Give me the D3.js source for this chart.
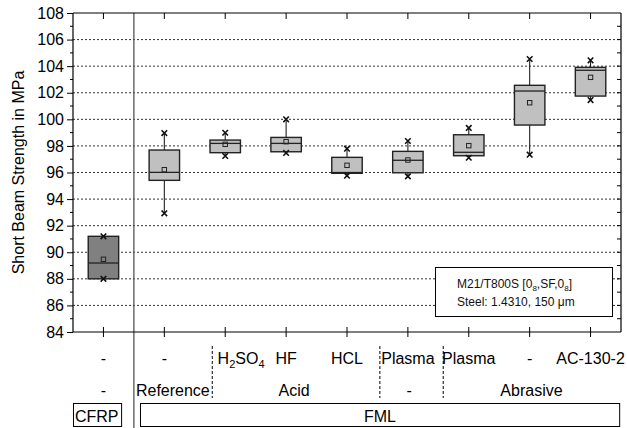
<!DOCTYPE html>
<html>
<head>
<meta charset="utf-8">
<script src="https://cdn.jsdelivr.net/npm/d3@7"></script>
<style>
  html, body { margin: 0; padding: 0; background: #fff; }
  svg { display: block; font-family: "Liberation Sans", Arial, sans-serif; }
</style>
</head>
<body>
<svg id="chart" width="627" height="428"></svg>
<script>
// Short beam strength per surface pretreatment
const categories = ["CFRP", "Reference", "H2SO4", "HF", "HCL", "Plasma", "PlasmaAbr", "Abr", "AC-130-2"];
const whiskerLow  = [88.0, 92.93, 97.24, 97.47, 95.76, 95.71, 97.11, 97.34, 101.45];
const q1          = [88.0, 95.41, 97.49, 97.56, 95.94, 95.98, 97.26, 99.57, 101.75];
const medians     = [89.19, 96.01, 98.19, 98.19, 96.0, 96.92, 97.52, 102.13, 103.69];
const q3          = [91.2, 97.69, 98.44, 98.64, 97.14, 97.59, 98.84, 102.56, 103.91];
const whiskerHigh = [91.2, 98.97, 98.99, 100.0, 97.79, 98.37, 99.35, 104.54, 104.44];
const means       = [89.47, 96.21, 98.12, 98.32, 96.54, 96.94, 98.02, 101.25, 103.16];

const yTicks = [84, 86, 88, 90, 92, 94, 96, 98, 100, 102, 104, 106, 108];
const treatmentLabels = ["-", "-", "H2SO4", "HF", "HCL", "Plasma", "Plasma", "-", "AC-130-2"];
// group labels: [text, slot position]
const groupLabels = [["-", 0.5], ["Reference", 1.64], ["Acid", 3.63], ["-", 5.52], ["Abrasive", 7.53]];
const materialLabels = ["CFRP", "FML"];

const svg = d3.select("#chart");
const m = { left: 73, right: 621, top: 13, bottom: 332 };

const x = d3.scaleBand().domain(categories).range([m.left, m.right]).padding(0);
const slot = d3.scaleLinear().domain([0, categories.length]).range([m.left, m.right]);
const y = d3.scaleLinear().domain([84, 108]).range([m.bottom, m.top]);
const cx = c => x(c) + x.bandwidth() / 2;
const boxW = x.bandwidth() * 0.5;

const rows = categories.map((c, i) => ({
  c, lo: whiskerLow[i], q1: q1[i], med: medians[i], q3: q3[i], hi: whiskerHigh[i], mean: means[i]
}));

// dotted grid
svg.append("g").selectAll("line")
  .data(yTicks.filter(v => v > 84 && v < 108))
  .join("line")
  .attr("x1", m.left).attr("x2", m.right)
  .attr("y1", d => y(d)).attr("y2", d => y(d))
  .attr("stroke", "#333").attr("stroke-width", 1)
  .attr("stroke-dasharray", "2,2");

// legend box (covers grid)
const lg = svg.append("g");
lg.append("rect").attr("x", 435.5).attr("y", 267.5).attr("width", 177).attr("height", 49)
  .attr("fill", "#fff").attr("stroke", "#000").attr("stroke-width", 1);
const t1 = lg.append("text").attr("x", 457).attr("y", 287.5).attr("font-size", 12).attr("fill", "#111");
t1.append("tspan").text("M21/T800S [0");
t1.append("tspan").attr("font-size", 8).attr("dy", 3).text("8");
t1.append("tspan").attr("dy", -3).text(",SF,0");
t1.append("tspan").attr("font-size", 8).attr("dy", 3).text("8");
t1.append("tspan").attr("dy", -3).text("]");
lg.append("text").attr("x", 457).attr("y", 305.5).attr("font-size", 12).attr("fill", "#111")
  .text("Steel: 1.4310, 150 \u03bcm");

// vertical separator between CFRP and FML
svg.append("line")
  .attr("x1", slot(1)).attr("x2", slot(1)).attr("y1", m.top).attr("y2", 428)
  .attr("stroke", "#555").attr("stroke-width", 1.3);

// whiskers
const g = svg.append("g");
g.selectAll("line.wh").data(rows).join("line").attr("class", "wh")
  .attr("x1", d => cx(d.c)).attr("x2", d => cx(d.c))
  .attr("y1", d => y(d.hi)).attr("y2", d => y(d.lo))
  .attr("stroke", "#222").attr("stroke-width", 1.1);

// boxes
g.selectAll("rect.box").data(rows).join("rect").attr("class", "box")
  .attr("x", d => cx(d.c) - boxW / 2).attr("width", boxW)
  .attr("y", d => y(d.q3)).attr("height", d => y(d.q1) - y(d.q3))
  .attr("fill", d => d.c === "CFRP" ? "#808080" : "#c0c0c0")
  .attr("stroke", "#222").attr("stroke-width", 1.4);

// medians
g.selectAll("line.med").data(rows).join("line").attr("class", "med")
  .attr("x1", d => cx(d.c) - boxW / 2).attr("x2", d => cx(d.c) + boxW / 2)
  .attr("y1", d => y(d.med)).attr("y2", d => y(d.med))
  .attr("stroke", "#222").attr("stroke-width", 1.3);

// means
g.selectAll("rect.mean").data(rows).join("rect").attr("class", "mean")
  .attr("x", d => cx(d.c) - 2.2).attr("y", d => y(d.mean) - 2.2)
  .attr("width", 4.4).attr("height", 4.4)
  .attr("fill", "none").attr("stroke", "#222").attr("stroke-width", 1);

// whisker end markers
const cross = d3.symbol(d3.symbolTimes, 22);
const ends = rows.flatMap(d => [{ c: d.c, v: d.hi }, { c: d.c, v: d.lo }]);
g.selectAll("path.end").data(ends).join("path").attr("class", "end")
  .attr("transform", d => `translate(${cx(d.c)},${y(d.v)})`)
  .attr("d", cross).attr("fill", "none").attr("stroke", "#111").attr("stroke-width", 1.6);

// frame
const fr = svg.append("g").attr("stroke", "#000").attr("stroke-width", 1.2);
fr.append("line").attr("x1", m.left).attr("x2", m.right).attr("y1", m.top).attr("y2", m.top);
fr.append("line").attr("x1", m.left).attr("x2", m.right).attr("y1", m.bottom).attr("y2", m.bottom);
fr.append("line").attr("x1", m.left).attr("x2", m.left).attr("y1", m.top).attr("y2", m.bottom);
fr.append("line").attr("x1", m.right).attr("x2", m.right).attr("y1", m.top).attr("y2", m.bottom);

// left axis
const yAxis = svg.append("g").attr("transform", `translate(${m.left},0)`)
  .call(d3.axisLeft(y).tickValues(yTicks).tickSize(6).tickPadding(3).tickFormat(d3.format("d")));
yAxis.select(".domain").remove();
yAxis.selectAll("text").attr("font-size", 16).attr("fill", "#000").attr("font-family", "Liberation Sans, Arial, sans-serif");
yAxis.selectAll("line").attr("stroke", "#000");
const minor = d3.range(85, 108, 2);
svg.append("g").selectAll("line").data(minor).join("line")
  .attr("x1", m.left - 3).attr("x2", m.left).attr("y1", d => y(d)).attr("y2", d => y(d))
  .attr("stroke", "#000");

// right axis ticks (inward)
svg.append("g").selectAll("line").data(d3.range(85, 108, 1)).join("line")
  .attr("x1", m.right - 4).attr("x2", m.right).attr("y1", d => y(d)).attr("y2", d => y(d))
  .attr("stroke", "#000");

// top and bottom category ticks
svg.append("g").selectAll("line").data(categories).join("line")
  .attr("x1", d => cx(d)).attr("x2", d => cx(d)).attr("y1", m.top).attr("y2", m.top + 6)
  .attr("stroke", "#000");
svg.append("g").selectAll("line").data(categories).join("line")
  .attr("x1", d => cx(d)).attr("x2", d => cx(d)).attr("y1", m.bottom - 5).attr("y2", m.bottom + 5)
  .attr("stroke", "#000");

// y title
svg.append("text")
  .attr("transform", `translate(24,${(m.top + m.bottom) / 2 + 0}) rotate(-90)`)
  .attr("text-anchor", "middle").attr("font-size", 16).attr("fill", "#000")
  .text("Short Beam Strength in MPa");

// treatment row
const lab = svg.append("g").attr("font-size", 16).attr("fill", "#000");
categories.forEach((c, i) => {
  const t = treatmentLabels[i];
  if (t === "H2SO4") {
    const tx = lab.append("text").attr("x", slot(2.76)).attr("y", 363.5).attr("text-anchor", "middle");
    tx.append("tspan").text("H");
    tx.append("tspan").attr("font-size", 11).attr("dy", 4).text("2");
    tx.append("tspan").attr("dy", -4).text("SO");
    tx.append("tspan").attr("font-size", 11).attr("dy", 4).text("4");
  } else {
    lab.append("text").attr("x", cx(c)).attr("y", 363.5).attr("text-anchor", "middle").text(t);
  }
});

// group row
groupLabels.forEach(([t, s]) => {
  lab.append("text").attr("x", slot(s)).attr("y", 396).attr("text-anchor", "middle").text(t);
});

// dashed separators within the label area
svg.append("g").selectAll("line").data([2.287, 5.04, 6.08]).join("line")
  .attr("x1", d => slot(d)).attr("x2", d => slot(d)).attr("y1", 346).attr("y2", 398)
  .attr("stroke", "#000").attr("stroke-width", 1).attr("stroke-dasharray", "3,2");

// material row
svg.append("rect").attr("x", slot(0) + 0.5).attr("y", 403.5).attr("width", slot(0.79) - slot(0)).attr("height", 23)
  .attr("fill", "none").attr("stroke", "#000");
svg.append("rect").attr("x", slot(1.1) + 0.5).attr("y", 403.5).attr("width", slot(8.97) - slot(1.1)).attr("height", 23)
  .attr("fill", "none").attr("stroke", "#000");
lab.append("text").attr("x", slot(0.39)).attr("y", 421.5).attr("text-anchor", "middle").text(materialLabels[0]);
lab.append("text").attr("x", slot(5.04)).attr("y", 421.5).attr("text-anchor", "middle").text(materialLabels[1]);
</script>
</body>
</html>
